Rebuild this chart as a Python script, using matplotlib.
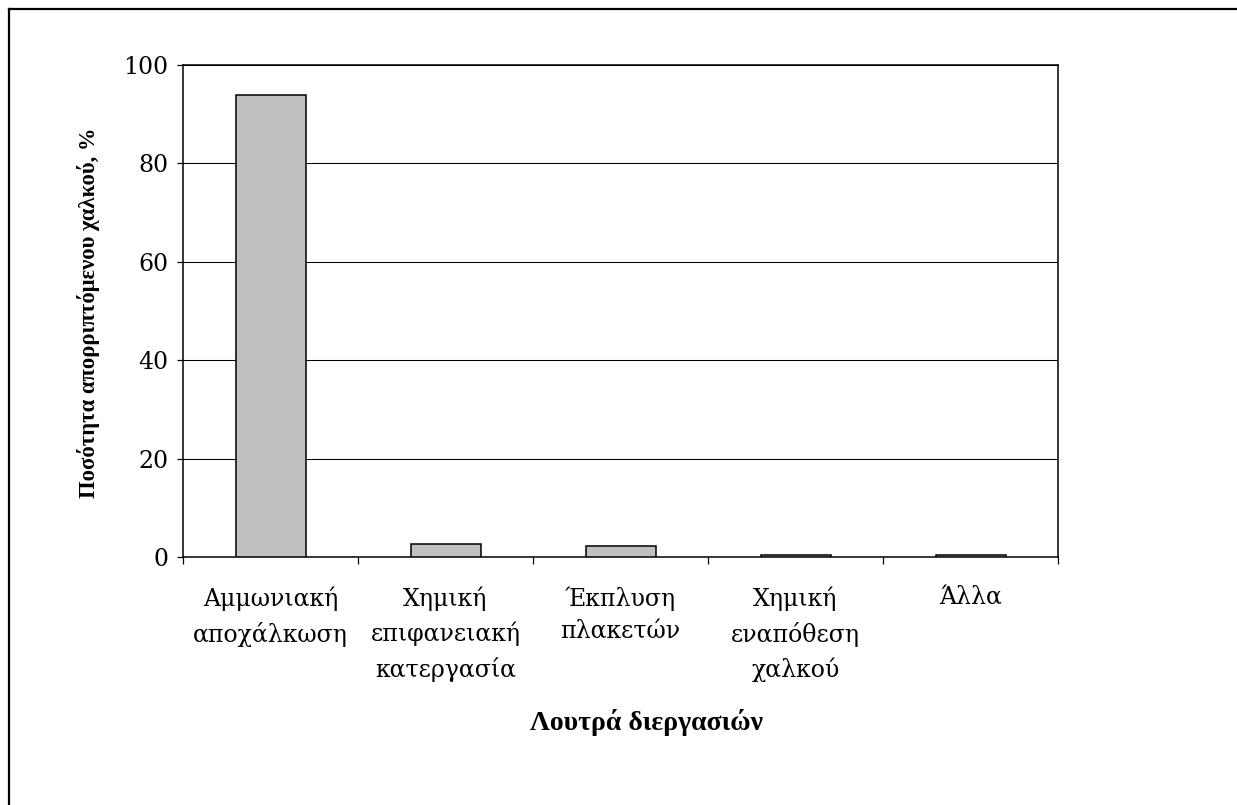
import matplotlib
matplotlib.use("Agg")
import matplotlib.pyplot as plt
from matplotlib.lines import Line2D

# Data: share of discarded copper per process bath (%)
categories = [
    "Αμμωνιακή\nαποχάλκωση",
    "Χημική\nεπιφανειακή\nκατεργασία",
    "Έκπλυση\nπλακετών",
    "Χημική\nεναπόθεση\nχαλκού",
    "Άλλα",
]
values = [94.0, 2.7, 2.3, 0.5, 0.5]
y_ticks = [0, 20, 40, 60, 80, 100]

plt.rcParams["font.family"] = ["DejaVu Serif"]
label_font = ["Liberation Serif", "DejaVu Serif"]

W, H = 1237, 805
fig = plt.figure(figsize=(W / 100, H / 100), dpi=100)
fig.patch.set_facecolor("white")

# plot area in pixel coordinates
left, right, top, bottom = 183, 1058, 65, 557
ax = fig.add_axes([left / W, 1 - bottom / H, (right - left) / W, (bottom - top) / H])

x = list(range(len(categories)))
ax.bar(x, values, width=0.4, color="#c0c0c0", edgecolor="black", linewidth=1.1, zorder=3)

ax.set_xlim(-0.5, len(categories) - 0.5)
ax.set_ylim(0, 100)
ax.set_yticks(y_ticks)
ax.yaxis.grid(True, color="black", linewidth=0.75, zorder=0)
ax.set_axisbelow(True)

for s in ax.spines.values():
    s.set_color("black")
    s.set_linewidth(1.1)

ax.tick_params(axis="y", direction="out", length=4.5, width=0.9, labelsize=17, pad=6)
ax.set_xticks(x)
ax.set_xticklabels(categories, fontsize=17, linespacing=1.55, va="top")
ax.tick_params(axis="x", which="major", length=0, pad=21)
ax.set_xticks([i - 0.5 for i in range(len(categories) + 1)], minor=True)
ax.tick_params(axis="x", which="minor", direction="out", length=5, width=0.9)

fig.text(647 / W, 1 - 722 / H, "Λουτρά διεργασιών", ha="center", va="center",
         fontsize=20, fontweight="bold", family=label_font)
fig.text(88 / W, 1 - 313 / H, "Ποσότητα απορριπτόμενου χαλκού, %", ha="center",
         va="center", rotation=90, fontsize=16.3, fontweight="bold", family=label_font)

# chart-area frame (left and top edges)
fig.add_artist(Line2D([9 / W, 9 / W], [1 - 9 / H, 0], transform=fig.transFigure,
                      color="black", linewidth=1.6))
fig.add_artist(Line2D([9 / W, 1], [1 - 9 / H, 1 - 9 / H], transform=fig.transFigure,
                      color="black", linewidth=1.6))

fig.savefig("out.png", dpi=100)
